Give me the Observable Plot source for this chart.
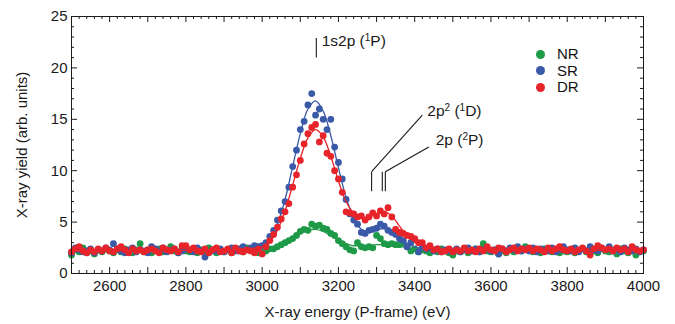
<!DOCTYPE html>
<html>
<head>
<meta charset="utf-8">
<script src="https://cdn.jsdelivr.net/npm/d3@7"></script>
<script src="https://cdn.jsdelivr.net/npm/@observablehq/plot@0.6"></script>
<style>
  html, body { margin: 0; padding: 0; background: #fff; }
  #wrap { position: relative; width: 675px; height: 324px; font-family: "Liberation Sans", Arial, sans-serif; }
  #legend { position: absolute; left: 536px; top: 46px; font-size: 15px; color: #111; line-height: 16.5px; }
  #legend .row { display: flex; align-items: center; }
  #legend .sw { width: 9px; height: 9px; border-radius: 50%; margin-right: 12px; }
</style>
</head>
<body>
<div id="wrap"><div id="legend"></div></div>
<script>
// ---------- data ----------
const energyStart = 2500, energyStep = 10; // eV sampling of the measured points

const seriesNames = ["NR", "SR", "DR"];
const seriesColors = ["#1f9a48", "#3a5aa8", "#e8242b"];

const NR = [
  1.8, 2.3, 2.1, 2.5, 2.0, 2.2, 1.9, 2.3, 2.1, 2.4,
  2.2, 2.0, 2.3, 2.1, 2.4, 2.2, 2.0, 2.3, 2.9, 2.1,
  2.3, 2.0, 2.2, 2.4, 2.1, 2.3, 2.6, 2.2, 2.0, 2.4,
  2.2, 2.1, 2.4, 2.0, 2.3, 2.1, 2.5, 2.2, 2.0, 2.3,
  2.1, 2.3, 2.0, 2.4, 2.2, 2.1, 2.5, 2.3, 2.1, 2.0,
  2.0, 2.2, 2.4, 2.4, 2.6, 2.8, 3.0, 3.2, 3.4, 3.7,
  4.1, 4.3, 4.2, 4.8, 4.6, 4.7, 4.4, 4.3, 3.9, 3.7,
  3.2, 2.9, 2.6, 2.3, 2.2, 3.0, 2.6, 2.5, 2.6, 2.5,
  3.7, 3.4, 2.9, 2.8, 2.9, 2.8, 2.8, 3.0, 2.6, 2.2,
  2.4, 2.1, 2.3, 2.2, 2.0, 2.3, 2.1, 2.4, 2.2, 2.0,
  1.8, 2.2, 2.1, 2.3, 2.0, 2.2, 2.4, 2.1, 2.9, 2.2,
  2.1, 2.3, 1.9, 2.2, 2.0, 2.3, 2.1, 2.4, 2.2, 2.6,
  2.3, 2.1, 2.2, 2.0, 2.4, 2.2, 2.1, 2.3, 2.0, 2.2,
  2.1, 2.3, 2.0, 2.2, 2.4, 2.1, 2.3, 2.2, 2.0, 2.4,
  2.2, 2.1, 2.3, 1.9, 2.4, 2.2, 2.0, 2.3, 1.8, 2.1,
  2.2
];
const SR = [
  2.0, 2.5, 2.3, 2.1, 2.2, 2.4, 2.0, 2.3, 2.2, 2.5,
  2.3, 2.9, 2.4, 2.2, 2.0, 2.3, 2.5, 2.1, 2.3, 2.2,
  2.0, 2.6, 2.4, 2.2, 2.5, 2.1, 2.3, 2.4, 2.0, 2.2,
  2.4, 2.3, 2.1, 2.5, 2.2, 1.6, 2.0, 2.3, 2.2, 2.4,
  2.1, 2.3, 2.5, 2.2, 2.4, 2.6, 2.3, 2.5, 2.7, 2.6,
  2.7, 3.0, 3.6, 4.2, 5.2, 6.1, 7.0, 8.4, 10.4, 12.0,
  14.0, 14.8, 16.4, 17.5, 15.4, 16.0, 15.0, 14.0, 15.0, 12.3,
  10.8, 9.2, 7.2, 5.8, 5.2, 4.8, 4.0, 3.9, 4.2, 4.3,
  4.4, 4.8, 4.6, 4.2, 4.0, 3.8, 3.4, 3.2, 2.6, 3.0,
  3.3, 2.1, 2.6, 2.4, 2.5, 2.2, 2.4, 2.1, 2.3, 2.2,
  2.2, 2.4, 2.1, 2.3, 2.5, 2.2, 2.4, 2.1, 2.3, 2.5,
  2.2, 2.3, 1.9, 2.4, 2.2, 2.5, 2.3, 2.6, 2.2, 2.4,
  2.2, 2.5, 2.1, 2.4, 2.3, 2.2, 2.5, 2.1, 2.3, 2.6,
  2.3, 2.2, 2.5, 2.1, 2.4, 2.2, 2.6, 2.3, 2.2, 2.5,
  2.3, 2.6, 2.2, 2.4, 2.1, 2.5, 2.3, 2.2, 2.4, 2.1,
  2.3
];
const DR = [
  2.1, 2.4, 2.6, 2.2, 2.0, 2.3, 2.1, 2.4, 2.2, 2.5,
  2.2, 2.1, 2.4, 2.6, 2.3, 2.0, 2.4, 2.2, 2.3, 2.1,
  2.3, 2.4, 2.2, 2.0, 2.5, 2.3, 2.2, 2.4, 2.1, 2.7,
  2.7, 2.3, 2.5, 2.2, 2.1, 2.4, 2.0, 2.3, 2.5, 2.1,
  2.2, 2.4, 2.0, 2.5, 2.2, 2.1, 2.3, 2.2, 2.0, 2.4,
  1.9, 2.6, 3.2, 3.8, 4.5, 5.3, 6.0, 6.8, 8.4, 9.6,
  11.0, 12.6, 13.6, 14.2, 14.5, 12.8, 13.4, 11.7, 11.4, 10.0,
  9.2, 7.9, 6.0, 5.9, 5.8, 5.5, 5.6, 5.2, 5.5, 5.9,
  5.6, 6.1, 5.8, 6.4, 5.5, 4.3, 4.0, 3.9, 3.7, 3.6,
  3.4, 3.0, 3.0, 2.5, 2.7, 2.3, 2.4, 2.1, 2.2, 2.4,
  2.1, 2.3, 2.2, 2.5, 2.2, 2.3, 2.1, 2.4, 2.2, 2.6,
  2.3, 2.2, 2.5, 2.4, 2.1, 2.3, 2.5, 2.2, 2.4, 2.3,
  2.5, 2.2, 2.4, 2.3, 2.1, 2.5, 2.2, 2.4, 2.6, 2.3,
  2.2, 2.4, 2.1, 2.3, 2.5, 2.2, 1.8, 2.4, 2.7, 2.5,
  2.3, 2.4, 2.2, 2.5, 2.3, 2.4, 2.1, 2.6, 2.3, 2.2,
  2.3
];

// fitted curves
const fitEnergy = [2500, 2900, 2960, 3000, 3020, 3040, 3060, 3080, 3100, 3120, 3140, 3160, 3180, 3200, 3220, 3240, 3260, 3280, 3300, 3320, 3340, 3360, 3380, 3400, 3440, 3500, 4000];
const fitNR = [2.1, 2.2, 2.2, 2.3, 2.5, 2.8, 3.1, 3.5, 3.9, 4.2, 4.3, 4.1, 3.7, 3.2, 2.9, 2.7, 2.7, 2.7, 2.8, 2.8, 2.8, 2.7, 2.5, 2.4, 2.3, 2.2, 2.2];
const fitSR = [2.2, 2.3, 2.4, 2.7, 3.3, 4.8, 7.2, 10.4, 13.6, 16.0, 16.8, 15.8, 13.4, 10.3, 7.4, 5.4, 4.3, 4.0, 4.2, 4.4, 4.1, 3.5, 2.9, 2.6, 2.3, 2.2, 2.2];
const fitDR = [2.2, 2.3, 2.4, 2.6, 3.1, 4.2, 6.1, 8.6, 11.2, 13.2, 14.0, 13.3, 11.4, 9.0, 7.0, 5.9, 5.5, 5.5, 5.8, 6.0, 5.6, 4.6, 3.7, 3.1, 2.5, 2.3, 2.3];

// axis ticks
const xTickLabels = [2600, 2800, 3000, 3200, 3400, 3600, 3800, 4000];
const yTickLabels = [0, 5, 10, 15, 20, 25];

// line annotations (energy in eV, yield)
const annotationSegments = [
  {x1: 3142, y1: 21.0, x2: 3142, y2: 22.9},
  {x1: 3287, y1: 8.0, x2: 3287, y2: 9.9},
  {x1: 3287, y1: 9.9, x2: 3420, y2: 15.4},
  {x1: 3315, y1: 8.0, x2: 3315, y2: 9.9},
  {x1: 3323, y1: 8.0, x2: 3323, y2: 9.9},
  {x1: 3323, y1: 9.9, x2: 3437, y2: 12.3}
];
// label parts: base text, superscript, rest
const annotationLabels = [
  {x: 3156, y: 22.6, parts: [["1s2p (", ""], ["1", "sup"], ["P)", ""]]},
  {x: 3433, y: 15.8, parts: [["2p", ""], ["2", "sup"], [" (", ""], ["1", "sup"], ["D)", ""]]},
  {x: 3455, y: 13.0, parts: [["2p (", ""], ["2", "sup"], ["P)", ""]]}
];

// ---------- build ----------
function toPoints(values, name) {
  return values.map((v, i) => ({energy: energyStart + i * energyStep, y: v, series: name}));
}
function toFit(values, name) {
  return values.map((v, i) => ({energy: fitEnergy[i], y: v, series: name}));
}
const pts = [toPoints(NR, "NR"), toPoints(SR, "SR"), toPoints(DR, "DR")];
const fits = [toFit(fitNR, "NR"), toFit(fitSR, "SR"), toFit(fitDR, "DR")];

const W = 675, H = 324, mL = 71, mR = 32, mT = 16, mB = 51;
const plotW = W - mL - mR, plotH = H - mT - mB;
const xMinor = d3.range(2520, 4000, 20).filter(d => d % 100 !== 0);
const xMajor = d3.range(2600, 4000, 100);
const yMinor = d3.range(1, 25, 1).filter(d => d % 5 !== 0);
const yMajor = [5, 10, 15, 20];
const ink = "#1a1a1a";

const marks = [
  Plot.tickX(xMinor, {x: d => d, insetTop: plotH - 3, stroke: ink}),
  Plot.tickX(xMinor, {x: d => d, insetBottom: plotH - 3, stroke: ink}),
  Plot.tickX(xMajor, {x: d => d, insetTop: plotH - 6, stroke: ink}),
  Plot.tickX(xMajor, {x: d => d, insetBottom: plotH - 6, stroke: ink}),
  Plot.tickY(yMinor, {y: d => d, insetRight: plotW - 3, stroke: ink}),
  Plot.tickY(yMinor, {y: d => d, insetLeft: plotW - 3, stroke: ink}),
  Plot.tickY(yMajor, {y: d => d, insetRight: plotW - 6, stroke: ink}),
  Plot.tickY(yMajor, {y: d => d, insetLeft: plotW - 6, stroke: ink}),
  Plot.axisX({ticks: xTickLabels, tickFormat: d3.format("d"), tickSize: 0, tickPadding: 7, label: null, fontSize: 15, fill: ink}),
  Plot.axisY({ticks: yTickLabels, tickFormat: d3.format("d"), tickSize: 0, tickPadding: 4, label: null, fontSize: 15, fill: ink})
];
for (let s = 0; s < 3; s++) {
  marks.push(Plot.dot(pts[s], {x: "energy", y: "y", r: 3.4, fill: seriesColors[s], stroke: "none"}));
  marks.push(Plot.line(fits[s], {x: "energy", y: "y", stroke: seriesColors[s], strokeWidth: 1.3, curve: "catmull-rom"}));
}
marks.push(
  Plot.link(annotationSegments, {x1: "x1", y1: "y1", x2: "x2", y2: "y2", stroke: ink, strokeWidth: 1.1}),
  Plot.text(annotationLabels, {x: "x", y: "y", text: d => d.parts.map(p => p[0]).join(""), textAnchor: "start", fontSize: 15.5, fill: ink, className: "annot"}),
  Plot.frame({stroke: ink, strokeWidth: 1}),
  Plot.text(["X-ray energy (P-frame) (eV)"], {frameAnchor: "bottom", lineAnchor: "middle", dy: 39, text: d => d, fontSize: 15, fill: ink}),
  Plot.text(["X-ray yield (arb. units)"], {frameAnchor: "left", textAnchor: "middle", lineAnchor: "middle", dx: -49, rotate: -90, text: d => d, fontSize: 15, fill: ink})
);

const chart = Plot.plot({
  width: W, height: H,
  marginLeft: mL, marginRight: mR, marginTop: mT, marginBottom: mB,
  x: {domain: [2500, 4000]},
  y: {domain: [0, 25]},
  style: {fontFamily: "'Liberation Sans', Arial, sans-serif", fontSize: "15px", background: "#fff", overflow: "visible"},
  marks
});
document.getElementById("wrap").prepend(chart);

// turn superscript parts into raised tspans
const NS = "http://www.w3.org/2000/svg";
d3.select(chart).selectAll("g.annot text").each(function(d, i) {
  const lbl = annotationLabels[i];
  if (!lbl) return;
  const t = this;
  while (t.firstChild) t.removeChild(t.firstChild);
  lbl.parts.forEach(([str, kind]) => {
    const ts = document.createElementNS(NS, "tspan");
    ts.textContent = str;
    if (kind === "sup") {
      ts.setAttribute("font-size", "10");
      ts.setAttribute("baseline-shift", "super");
    }
    t.appendChild(ts);
  });
});

const legend = document.getElementById("legend");
seriesNames.forEach((n, i) => {
  const row = document.createElement("div");
  row.className = "row";
  row.innerHTML = `<span class="sw" style="background:${seriesColors[i]}"></span><span>${n}</span>`;
  legend.appendChild(row);
});
</script>
</body>
</html>
